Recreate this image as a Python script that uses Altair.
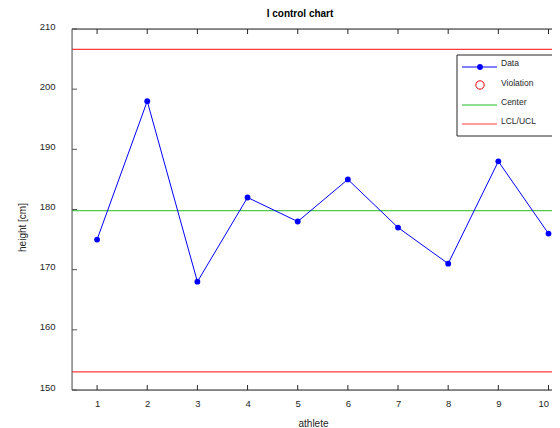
import altair as alt
import pandas as pd

athlete = [1, 2, 3, 4, 5, 6, 7, 8, 9, 10]
height = [175, 198, 168, 182, 178, 185, 177, 171, 188, 176]
center = [179.8]
limits = [153.0, 206.6]
x_ticks = [1, 2, 3, 4, 5, 6, 7, 8, 9, 10]
y_ticks = [150, 160, 170, 180, 190, 200, 210]
legend_labels = ["Data", "Violation", "Center", "LCL/UCL"]
chart_title = "I control chart"

W, H = 480, 361
FONT = "Liberation Sans"
TXT = "#262626"
GREEN = "#22bb22"
RED = "#ff3a3a"

xs = alt.Scale(domain=[0.5, 10.07], nice=False, zero=False)
ys = alt.Scale(domain=[150, 210], nice=False, zero=False)

df = pd.DataFrame({"athlete": athlete, "height": height})

base_x = alt.X("athlete:Q", scale=xs,
               axis=alt.Axis(values=x_ticks, grid=False, domain=False, ticks=False, tickSize=0,
                             labelPadding=8, labelFont=FONT, labelFontSize=9.5, labelColor=TXT,
                             labelFlush=5,
                             title="athlete", titleFont=FONT, titleFontSize=10, titleFontWeight="normal",
                             titleColor=TXT, titleX=241, titleY=36, titleBaseline="alphabetic",
                             titleAlign="center"))
base_y = alt.Y("height:Q", scale=ys,
               axis=alt.Axis(values=y_ticks, grid=False, domain=False, ticks=False, tickSize=0,
                             labelPadding=17, labelFont=FONT, labelFontSize=9.5, labelColor=TXT,
                             labelOffset=-3,
                             title="height [cm]", titleFont=FONT, titleFontSize=10,
                             titleFontWeight="normal", titleColor=TXT, titleX=-50, titleY=198,
                             titleAngle=-90, titleBaseline="middle", titleAlign="center"))

one = pd.DataFrame({"a": [0]})

line = alt.Chart(df).mark_line(color="#0000ff", strokeWidth=1).encode(x=base_x, y=base_y)
pts = alt.Chart(df).mark_point(color="#0000ff", filled=True, size=34, opacity=1).encode(
    x="athlete:Q", y="height:Q")

center_rule = alt.Chart(pd.DataFrame({"v": center})).mark_rule(color=GREEN, strokeWidth=1).encode(
    y=alt.Y("v:Q", scale=ys))
limit_rule = alt.Chart(pd.DataFrame({"v": limits})).mark_rule(color=RED, strokeWidth=1.2).encode(
    y=alt.Y("v:Q", scale=ys))

# axes box (top, left, bottom) and inward ticks
frame_top = alt.Chart(one).mark_rule(color=TXT, strokeWidth=1).encode(
    x=alt.value(0), x2=alt.value(W), y=alt.value(0))
frame_bot = alt.Chart(one).mark_rule(color=TXT, strokeWidth=1).encode(
    x=alt.value(0), x2=alt.value(W), y=alt.value(H))
frame_left = alt.Chart(one).mark_rule(color="#555555", strokeWidth=1).encode(
    x=alt.value(0), y=alt.value(0), y2=alt.value(H))

yt = pd.DataFrame({"v": y_ticks})
xt = pd.DataFrame({"v": x_ticks})
ytick = alt.Chart(yt).mark_rule(color="#555555", strokeWidth=1).encode(
    y=alt.Y("v:Q", scale=ys), x=alt.value(0), x2=alt.value(5))
xtick_b = alt.Chart(xt).mark_rule(color=TXT, strokeWidth=1).encode(
    x=alt.X("v:Q", scale=xs), y=alt.value(H), y2=alt.value(H - 5))
xtick_t = alt.Chart(xt).mark_rule(color=TXT, strokeWidth=1).encode(
    x=alt.X("v:Q", scale=xs), y=alt.value(0), y2=alt.value(5))

# title as a text mark placed above the plot
title_mark = alt.Chart(one).mark_text(align="center", baseline="middle", font=FONT, fontSize=10,
                                      fontWeight="bold", color="#000000").encode(
    x=alt.value(228), y=alt.value(-15), text=alt.value(chart_title))

# legend (drawn in pixel space of the plot)
lx0, lx1, ly0, ly1 = 385, 492, 26, 107
rows_y = [38, 56, 76, 95]
text_y = [34, 54, 73, 92]
box = alt.Chart(one).mark_rect(fill="white", stroke="#262626", strokeWidth=1).encode(
    x=alt.value(lx0), x2=alt.value(lx1), y=alt.value(ly0), y2=alt.value(ly1))
leg_data_line = alt.Chart(one).mark_rule(color="#0000ff").encode(
    x=alt.value(390), x2=alt.value(425), y=alt.value(rows_y[0]))
leg_data_pt = alt.Chart(one).mark_point(color="#0000ff", filled=True, size=34, opacity=1).encode(
    x=alt.value(408), y=alt.value(rows_y[0]))
leg_viol = alt.Chart(one).mark_point(color="#ff0000", filled=False, size=70, strokeWidth=1, opacity=1).encode(
    x=alt.value(408), y=alt.value(rows_y[1]))
leg_center = alt.Chart(one).mark_rule(color=GREEN).encode(
    x=alt.value(390), x2=alt.value(425), y=alt.value(rows_y[2]))
leg_lim = alt.Chart(one).mark_rule(color=RED).encode(
    x=alt.value(390), x2=alt.value(425), y=alt.value(rows_y[3]))
leg_texts = [
    alt.Chart(one).mark_text(align="left", baseline="middle", font=FONT,
                             fontSize=8.5, color=TXT).encode(
        x=alt.value(429), y=alt.value(ty), text=alt.value(lab))
    for lab, ty in zip(legend_labels, text_y)
]

chart = alt.layer(
    center_rule, limit_rule, line, pts, frame_top, frame_bot, frame_left, ytick, xtick_b, xtick_t,
    title_mark, box, leg_data_line, leg_data_pt, leg_viol, leg_center, leg_lim, *leg_texts
).properties(
    width=W, height=H,
    autosize=alt.AutoSizeParams(type="none"),
    padding={"left": 64, "top": 21, "right": 0, "bottom": 38},
).configure_view(stroke=None).configure(background="white")

chart.save("out.html", embed_options={"renderer": "svg", "actions": False})
